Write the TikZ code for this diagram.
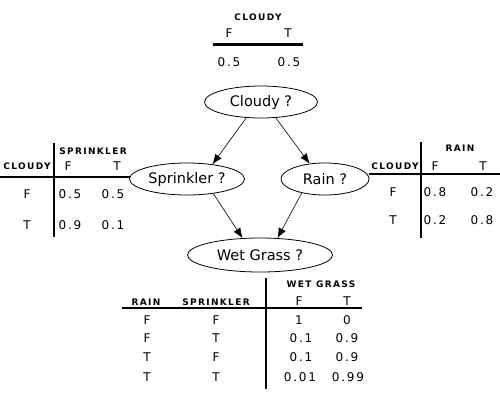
\documentclass[tikz,border=0pt]{standalone}
\usepackage{fontspec}
\setmainfont{DejaVu Sans}
\usepackage{tikz}
\usetikzlibrary{arrows.meta,shapes.geometric}

\begin{document}
\begin{tikzpicture}[x=1pt,y=-1pt,>={Latex[length=10pt,width=8pt]},
 var/.style={draw,ellipse,line width=0.8pt,inner sep=0pt,font=\fontsize{14.5}{16}\selectfont},
 hdtext/.style={inner sep=0pt,font=\fontsize{9}{10}\selectfont\bfseries\addfontfeature{LetterSpace=15}},
 cpt/.style={inner sep=0pt,font=\fontsize{12}{13}\selectfont\addfontfeature{LetterSpace=15}},
 rule/.style={line width=2.5pt}]
\useasboundingbox (0,0) rectangle (500,400);
% network
\node[var,minimum width=113pt,minimum height=32pt] (cloudy) at (261,102) {Cloudy ?};
\node[var,minimum width=115pt,minimum height=32pt] (sprinkler) at (187,179) {Sprinkler ?};
\node[var,minimum width=88pt,minimum height=32pt] (rain) at (325,179) {Rain ?};
\node[var,minimum width=145pt,minimum height=34pt] (wetgrass) at (260,255) {Wet Grass ?};
\draw[->,line width=0.6pt] (cloudy.227) -- (sprinkler.30);
\draw[->,line width=0.6pt] (cloudy.313) -- (rain.135);
\draw[->,line width=0.6pt] (sprinkler.331) -- (wetgrass.136);
\draw[->,line width=0.6pt] (rain.211) -- (wetgrass.44);
% table for cloudy
\node[hdtext] (ct-h) at (258,17) {CLOUDY};
\node[cpt] (ct-f) at (229,33) {F};
\node[cpt] (ct-t) at (288,33) {T};
\draw[rule] (213,44.5) -- (303,44.5);
\node[cpt] (ct-pf) at (229,62) {0.5};
\node[cpt] (ct-pt) at (289,62) {0.5};
% table for sprinkler
\draw[rule] (54,143) -- (54,237);
\draw[rule] (0,177) -- (130,177);
\node[hdtext] (st-h) at (93,151) {SPRINKLER};
\node[hdtext] (st-c) at (27,166) {CLOUDY};
\node[cpt] (st-f) at (68,166) {F};
\node[cpt] (st-t) at (117,166) {T};
\node[cpt] (st-r1) at (27,194) {F};
\node[cpt] (st-r1f) at (70,194) {0.5};
\node[cpt] (st-r1t) at (113,194) {0.5};
\node[cpt] (st-r2) at (27,225) {T};
\node[cpt] (st-r2f) at (70,225) {0.9};
\node[cpt] (st-r2t) at (113,225) {0.1};
% table for rain
\draw[rule] (421,142) -- (421,238);
\draw[rule] (369,174) -- (500,174);
\node[hdtext] (rt-h) at (460,148) {RAIN};
\node[hdtext] (rt-c) at (395,166) {CLOUDY};
\node[cpt] (rt-f) at (435,166) {F};
\node[cpt] (rt-t) at (483,166) {T};
\node[cpt] (rt-r1) at (393,192) {F};
\node[cpt] (rt-r1f) at (435,192) {0.8};
\node[cpt] (rt-r1t) at (482,192) {0.2};
\node[cpt] (rt-r2) at (393,220) {T};
\node[cpt] (rt-r2f) at (435,220) {0.2};
\node[cpt] (rt-r2t) at (482,220) {0.8};
% table for wet grass
\draw[rule] (266,278) -- (266,389);
\draw[rule] (122,308) -- (362,308);
\node[hdtext] (wt-h) at (321,284) {WET GRASS};
\node[hdtext] (wt-r) at (146,302) {RAIN};
\node[hdtext] (wt-s) at (216,302) {SPRINKLER};
\node[cpt] (wt-f) at (299,301) {F};
\node[cpt] (wt-t) at (347,301) {T};
\node[cpt] (wt-a1) at (147,320) {F};
\node[cpt] (wt-b1) at (216,320) {F};
\node[cpt] (wt-f1) at (299,320) {1};
\node[cpt] (wt-t1) at (347,320) {0};
\node[cpt] (wt-a2) at (147,338) {F};
\node[cpt] (wt-b2) at (216,338) {T};
\node[cpt] (wt-f2) at (301,338) {0.1};
\node[cpt] (wt-t2) at (347,338) {0.9};
\node[cpt] (wt-a3) at (147,357) {T};
\node[cpt] (wt-b3) at (216,357) {F};
\node[cpt] (wt-f3) at (301,357) {0.1};
\node[cpt] (wt-t3) at (347,357) {0.9};
\node[cpt] (wt-a4) at (147,377) {T};
\node[cpt] (wt-b4) at (216,377) {T};
\node[cpt] (wt-f4) at (300,377) {0.01};
\node[cpt] (wt-t4) at (348,377) {0.99};
\end{tikzpicture}
\end{document}
